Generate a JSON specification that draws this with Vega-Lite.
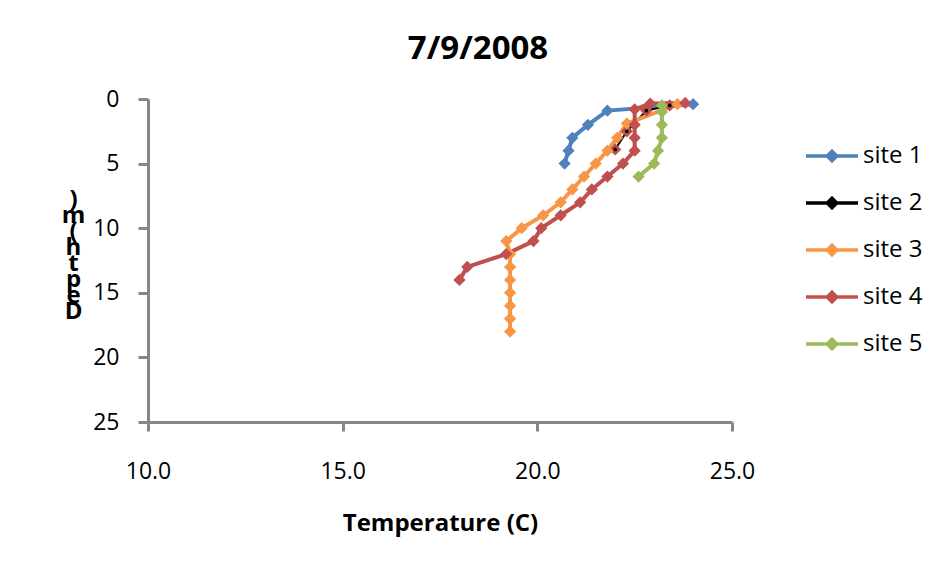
{
  "$schema": "https://vega.github.io/schema/vega-lite/v6.json",
  "width": 584,
  "height": 323,
  "autosize": {"type": "none"},
  "padding": {"left": 148, "top": 99, "right": 219, "bottom": 150},
  "background": "white",
  "title": {
    "text": "7/9/2008",
    "font": "Open Sans",
    "fontSize": 33,
    "fontWeight": "bold",
    "color": "black",
    "anchor": "middle",
    "dx": 38,
    "offset": -4,
    "baseline": "alphabetic"
  },
  "data": {
    "values": [
      {"site": "site 1", "temp": 24.0, "depth": 0.4},
      {"site": "site 1", "temp": 21.8, "depth": 0.9},
      {"site": "site 1", "temp": 21.3, "depth": 2},
      {"site": "site 1", "temp": 20.9, "depth": 3},
      {"site": "site 1", "temp": 20.8, "depth": 4},
      {"site": "site 1", "temp": 20.7, "depth": 5},
      {"site": "site 2", "temp": 23.4, "depth": 0.5},
      {"site": "site 2", "temp": 22.8, "depth": 0.9},
      {"site": "site 2", "temp": 22.3, "depth": 2.5},
      {"site": "site 2", "temp": 22.0, "depth": 3.9},
      {"site": "site 3", "temp": 23.6, "depth": 0.4},
      {"site": "site 3", "temp": 22.3, "depth": 1.9},
      {"site": "site 3", "temp": 22.05, "depth": 3},
      {"site": "site 3", "temp": 21.8, "depth": 4},
      {"site": "site 3", "temp": 21.5, "depth": 5},
      {"site": "site 3", "temp": 21.2, "depth": 6},
      {"site": "site 3", "temp": 20.9, "depth": 7},
      {"site": "site 3", "temp": 20.6, "depth": 8},
      {"site": "site 3", "temp": 20.15, "depth": 9},
      {"site": "site 3", "temp": 19.6, "depth": 10},
      {"site": "site 3", "temp": 19.2, "depth": 11},
      {"site": "site 3", "temp": 19.3, "depth": 12},
      {"site": "site 3", "temp": 19.3, "depth": 13},
      {"site": "site 3", "temp": 19.3, "depth": 14},
      {"site": "site 3", "temp": 19.3, "depth": 15},
      {"site": "site 3", "temp": 19.3, "depth": 16},
      {"site": "site 3", "temp": 19.3, "depth": 17},
      {"site": "site 3", "temp": 19.3, "depth": 18},
      {"site": "site 4", "temp": 23.8, "depth": 0.3},
      {"site": "site 4", "temp": 22.9, "depth": 0.35},
      {"site": "site 4", "temp": 22.5, "depth": 0.8},
      {"site": "site 4", "temp": 22.5, "depth": 2},
      {"site": "site 4", "temp": 22.5, "depth": 3},
      {"site": "site 4", "temp": 22.5, "depth": 4},
      {"site": "site 4", "temp": 22.2, "depth": 5},
      {"site": "site 4", "temp": 21.8, "depth": 6},
      {"site": "site 4", "temp": 21.4, "depth": 7},
      {"site": "site 4", "temp": 21.1, "depth": 8},
      {"site": "site 4", "temp": 20.6, "depth": 9},
      {"site": "site 4", "temp": 20.1, "depth": 10},
      {"site": "site 4", "temp": 19.9, "depth": 11},
      {"site": "site 4", "temp": 19.2, "depth": 12},
      {"site": "site 4", "temp": 18.2, "depth": 13},
      {"site": "site 4", "temp": 18.0, "depth": 14},
      {"site": "site 5", "temp": 23.2, "depth": 0.5},
      {"site": "site 5", "temp": 23.2, "depth": 1},
      {"site": "site 5", "temp": 23.2, "depth": 2},
      {"site": "site 5", "temp": 23.2, "depth": 3},
      {"site": "site 5", "temp": 23.1, "depth": 4},
      {"site": "site 5", "temp": 23.0, "depth": 5},
      {"site": "site 5", "temp": 22.6, "depth": 6}
    ]
  },
  "encoding": {
    "x": {
      "field": "temp",
      "type": "quantitative",
      "scale": {"domain": [10, 25], "nice": false, "zero": false},
      "axis": {
        "title": "Temperature (C)",
        "values": [10, 15, 20, 25],
        "format": ".1f",
        "grid": false,
        "labelFlush": false,
        "domainColor": "#868686",
        "domainWidth": 3,
        "tickColor": "#868686",
        "tickWidth": 3,
        "tickSize": 9,
        "labelFont": "Open Sans",
        "labelFontSize": 23,
        "labelColor": "black",
        "labelPadding": 29,
        "titleFont": "Open Sans",
        "titleFontSize": 24,
        "titleFontWeight": "bold",
        "titleColor": "black",
        "titlePadding": 28
      }
    },
    "y": {
      "field": "depth",
      "type": "quantitative",
      "scale": {"domain": [0, 25], "reverse": true, "nice": false, "zero": false},
      "axis": {
        "title": [")", "m", "(", "h", "t", "p", "e", "D"],
        "values": [0, 5, 10, 15, 20, 25],
        "grid": false,
        "domainColor": "#868686",
        "domainWidth": 3,
        "tickColor": "#868686",
        "tickWidth": 3,
        "tickSize": 10,
        "labelFont": "Open Sans",
        "labelFontSize": 23,
        "labelColor": "black",
        "labelPadding": 19,
        "titleFont": "Open Sans",
        "titleFontSize": 24,
        "titleFontWeight": "bold",
        "titleColor": "black",
        "titleAngle": 0,
        "titleAlign": "center",
        "titleBaseline": "top",
        "titleLineHeight": 16,
        "titleX": -75,
        "titleY": 88
      }
    }
  },
  "layer": [
    {
      "mark": {"type": "line", "opacity": 1},
      "encoding": {
        "order": {"field": "depth", "type": "quantitative"},
        "strokeWidth": {
          "condition": {"test": "datum.site === 'site 2'", "value": 2},
          "value": 4
        },
        "stroke": {
          "field": "site",
          "type": "nominal",
          "scale": {
            "domain": ["site 1", "site 2", "site 3", "site 4", "site 5"],
            "range": ["#4F81BD", "#000000", "#F79646", "#C0504D", "#9BBB59"]
          },
          "legend": {"title": null}
        }
      }
    },
    {
      "mark": {"type": "point", "shape": "diamond", "filled": true, "size": 150, "opacity": 1, "strokeWidth": 0},
      "encoding": {
        "fill": {
          "field": "site",
          "type": "nominal",
          "scale": {
            "domain": ["site 1", "site 2", "site 3", "site 4", "site 5"],
            "range": ["#4F81BD", "#C0504D", "#F79646", "#C0504D", "#9BBB59"]
          },
          "legend": {"title": null}
        }
      }
    },
    {
      "transform": [{"filter": "datum.site === 'site 2'"}],
      "mark": {"type": "point", "shape": "circle", "filled": true, "size": 14, "color": "black", "opacity": 1}
    }
  ],
  "config": {
    "view": {"stroke": null},
    "font": "Open Sans",
    "legend": {
      "orient": "none",
      "legendX": 656,
      "legendY": 29,
      "padding": 0,
      "symbolType": "M-1,0H1M0,-0.18L0.18,0L0,0.18L-0.18,0Z",
      "symbolSize": 2704,
      "symbolStrokeWidth": 3.5,
      "symbolOpacity": 1,
      "labelFont": "Open Sans",
      "labelFontSize": 24,
      "labelColor": "black",
      "labelOffset": 3,
      "rowPadding": 7,
      "labelLimit": 200
    }
  }
}
